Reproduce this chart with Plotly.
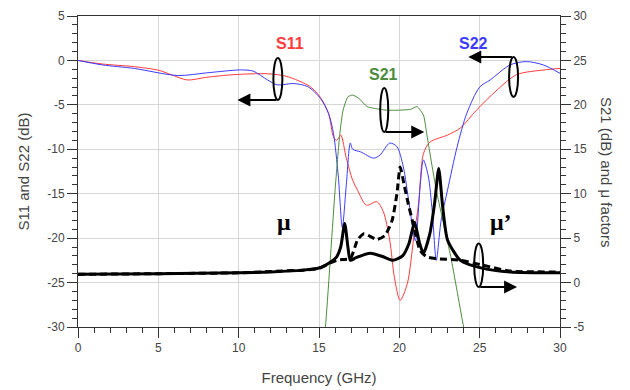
import plotly.graph_objects as go

# ---------------- data ----------------
s11_f = [0, 1.5, 3.5, 5, 5.8, 6.8, 8, 9.7, 11.8, 13, 14.45, 15.1, 15.6, 15.9, 16.1, 16.35, 16.7, 17.1, 17.4,
         17.95, 18.6, 19.0, 19.4, 19.7, 20.05, 20.5, 20.9, 21.2, 21.5, 21.9, 23.0, 23.8, 24.8, 26.1, 27.3, 29, 30]
s11_v = [0, -0.4, -0.7, -1.1, -1.6, -2.2, -1.9, -1.6, -1.5, -1.8, -2.95, -4.2, -6.0, -8.6, -9.0, -8.4, -11.0, -13.5, -14.6,
         -16.3, -15.9, -17.0, -20.2, -24.5, -27.0, -25.1, -19.9, -16.1, -10.5, -9.2, -8.4, -7.6, -5.6, -3.3, -1.6, -1.07, -0.9]

s22_f = [0, 1.5, 3.5, 6.2, 8, 10.1, 10.9, 11.8, 12.4, 13.4, 14.3, 15.1, 15.6, 15.9, 16.2, 16.45, 16.7, 16.95, 17.1,
         17.6, 18.4, 18.8, 19.4, 19.85, 20.25, 20.6, 21.0, 21.3, 21.5, 21.8, 22.05, 22.3, 22.6, 23.0, 23.6, 24.2,
         25.0, 25.65, 26.9, 27.9, 28.95, 30]
s22_v = [0, -0.5, -0.9, -1.7, -1.4, -1.07, -1.2, -2.2, -2.75, -2.6, -2.95, -4.3, -6.0, -8.2, -13.0, -18.8, -14.0, -9.3, -10.0,
         -10.3, -11.0, -10.65, -9.3, -9.7, -12.0, -16.0, -20.3, -14.0, -11.2, -13.0, -17.0, -22.5, -18.0, -14.6, -9.7, -5.95,
         -3.0, -2.2, -0.5, -0.13, -0.5, -1.45]

s21_f = [15.1, 15.4, 16.0, 16.3, 16.5, 16.8, 17.1, 17.5, 18.0, 18.8, 19.2, 20.0, 20.7, 21.1, 21.5, 21.7, 21.9, 22.3, 23.2, 24.0, 24.5]
s21_v = [-10, -5, 10.4, 16.8, 19.4, 20.9, 21.1, 20.7, 19.8, 19.5, 19.4, 19.4, 19.5, 19.8, 18.85, 16.8, 14.6, 10.4, 2.9, -5, -9.5]

mu_f = [0, 5, 10, 12, 14, 15, 15.7, 16.1, 16.35, 16.6, 16.8, 16.95, 17.3, 18.2, 19.0, 19.6, 20.2, 20.6, 20.95,
        21.25, 21.5, 21.9, 22.2, 22.45, 22.7, 23.0, 23.8, 25.2, 26.9, 30]
mu_v = [0.93, 1.0, 1.1, 1.2, 1.4, 1.64, 2.3, 2.9, 4.0, 6.65, 4.0, 2.5, 2.8, 3.3, 2.9, 2.5, 3.0, 4.4, 6.8,
        4.5, 3.3, 5.5, 9.0, 12.85, 8.5, 4.8, 2.5, 1.6, 1.2, 1.1]

mup_f = [0, 5, 10, 12, 14, 15, 15.7, 16.1, 16.5, 16.95, 17.4, 17.8, 18.6, 19.1, 19.55, 19.85, 20.05, 20.3, 20.5,
         20.9, 21.3, 21.7, 22.3, 23.8, 25.2, 26.9, 30]
mup_v = [0.93, 1.0, 1.1, 1.25, 1.4, 1.6, 2.2, 2.5, 2.6, 2.7, 4.8, 5.5, 4.85, 5.3, 7.0, 10.0, 13.0, 11.0, 9.3,
         6.3, 3.6, 2.9, 2.7, 2.5, 1.95, 1.3, 1.2]

x_ticks = [0, 5, 10, 15, 20, 25, 30]
left_ticks = [5, 0, -5, -10, -15, -20, -25, -30]
right_ticks = [30, 25, 20, 15, 10, 5, 0, -5]

FONT = "Liberation Sans, Arial, sans-serif"
RED, BLUE, GREEN = "#ff3b3b", "#3b3bff", "#4c8c3c"
TXT = "#444"

fig = go.Figure()
fig.add_trace(go.Scatter(x=s11_f, y=s11_v, mode="lines", line=dict(color=RED, width=1, shape="spline", smoothing=0.8)))
fig.add_trace(go.Scatter(x=s22_f, y=s22_v, mode="lines", line=dict(color=BLUE, width=1, shape="spline", smoothing=0.8)))
fig.add_trace(go.Scatter(x=s21_f, y=s21_v, mode="lines", yaxis="y2", line=dict(color=GREEN, width=1, shape="spline", smoothing=0.6)))
fig.add_trace(go.Scatter(x=mup_f, y=mup_v, mode="lines", yaxis="y2", line=dict(color="black", width=3, dash="7px,4px", shape="spline", smoothing=0.6)))
fig.add_trace(go.Scatter(x=mu_f, y=mu_v, mode="lines", yaxis="y2", line=dict(color="black", width=3, shape="spline", smoothing=0.6)))

axis_common = dict(showline=True, linecolor="#333", linewidth=1, ticks="outside", ticklen=10, tickcolor="#333",
                   tickfont=dict(family=FONT, size=12, color=TXT), zeroline=False, automargin=False)
minor = dict(dtick=1, ticks="outside", ticklen=5, tickcolor="#333", showgrid=False)

def hy(vals):
    return [str(v) for v in vals]

fig.update_layout(
    width=630, height=390,
    margin=dict(l=78, r=70, t=16, b=63),
    plot_bgcolor="white", paper_bgcolor="white",
    showlegend=False,
    xaxis=dict(range=[0, 30], tickvals=x_ticks, ticktext=hy(x_ticks), mirror=True, showgrid=True,
               gridcolor="#d6d6d6", gridwidth=1, minor=minor,
               title=dict(text="Frequency (GHz)", font=dict(family=FONT, size=15, color=TXT), standoff=18),
               **axis_common),
    yaxis=dict(range=[-30, 5], tickvals=left_ticks, ticktext=hy(left_ticks), showgrid=True,
               gridcolor="#d6d6d6", gridwidth=1, minor=minor,
               title=dict(text="S11 and S22 (dB)", font=dict(family=FONT, size=15, color=TXT), standoff=14),
               **axis_common),
    yaxis2=dict(range=[-5, 30], tickvals=right_ticks, ticktext=hy(right_ticks), overlaying="y", side="right",
                showgrid=False, minor=minor, **axis_common),
)

# right axis title reads top-to-bottom
fig.add_annotation(xref="paper", yref="paper", x=1.0, y=0.5, xshift=57, text="S21 (dB) and μ factors",
                   textangle=90, showarrow=False, font=dict(family=FONT, size=15, color=TXT))

# labels
def label(text, x, y, color, size=15, family=FONT):
    fig.add_annotation(x=x, y=y, xref="x", yref="y", text=f"<b>{text}</b>", showarrow=False,
                       font=dict(family=family, size=size, color=color))

label("S11", 13.2, 1.9, RED, size=16)
label("S21", 19.0, -1.6, GREEN, size=16)
label("S22", 24.6, 1.9, BLUE, size=16)
label("μ", 12.8, -18.2, "black", size=24, family="Liberation Serif, serif")
label("μ’", 26.3, -18.2, "black", size=24, family="Liberation Serif, serif")

# ellipses with arrows
def ellipse(x0, x1, y0, y1):
    fig.add_shape(type="circle", xref="x", yref="y", x0=x0, x1=x1, y0=y0, y1=y1,
                  line=dict(color="black", width=2))

def arrow(xs, ys, xe, ye):
    fig.add_annotation(x=xe, y=ye, ax=xs, ay=ys, xref="x", yref="y", axref="x", ayref="y", text="",
                       showarrow=True, arrowhead=2, arrowsize=1.3, arrowwidth=2, arrowcolor="black")

ellipse(12.16, 12.72, -4.45, 0.28)
arrow(12.44, -4.45, 9.92, -4.45)
ellipse(18.81, 19.31, -8.06, -3.1)
arrow(19.06, -8.06, 21.55, -8.06)
ellipse(26.83, 27.39, -4.1, 0.39)
arrow(27.1, 0.39, 24.29, 0.39)
ellipse(24.66, 25.22, -25.5, -20.6)
arrow(24.94, -25.5, 27.33, -25.5)

fig.write_html("out.html")
